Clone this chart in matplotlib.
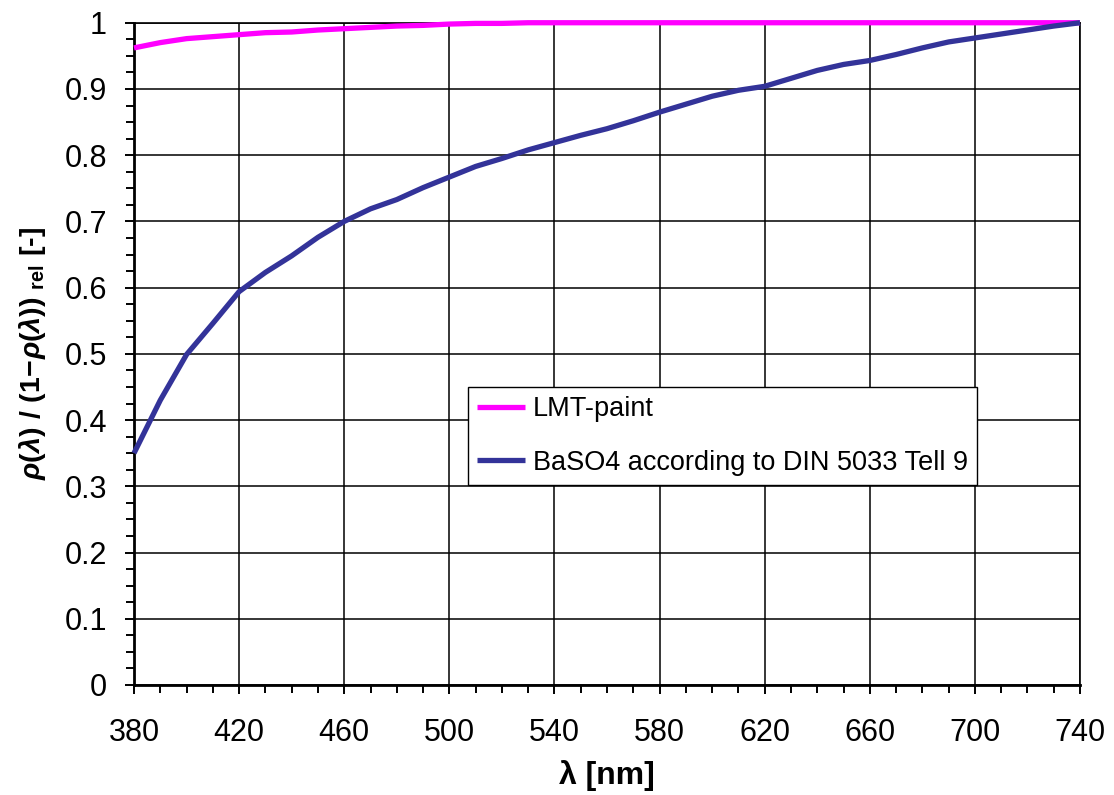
import matplotlib
matplotlib.use('Agg')
import matplotlib.pyplot as plt
from matplotlib.ticker import MultipleLocator
import numpy as np

plt.rcParams['font.family'] = ['Liberation Sans', 'DejaVu Sans']
plt.rcParams['mathtext.fontset'] = 'custom'
plt.rcParams['mathtext.rm'] = 'Liberation Sans:bold'
plt.rcParams['mathtext.it'] = 'Liberation Sans:italic:bold'
plt.rcParams['mathtext.bf'] = 'Liberation Sans:bold'

# wavelength grid (nm)
wavelength = [380, 390, 400, 410, 420, 430, 440, 450, 460, 470,
              480, 490, 500, 510, 520, 530, 540, 550, 560, 570,
              580, 590, 600, 610, 620, 630, 640, 650, 660, 670,
              680, 690, 700, 710, 720, 730, 740]

# relative rho/(1-rho) values
lmt_paint = [0.962, 0.970, 0.976, 0.979, 0.982, 0.985, 0.986, 0.989, 0.991, 0.993,
             0.995, 0.996, 0.998, 0.999, 0.999, 1.000, 1.000, 1.000, 1.000, 1.000,
             1.000, 1.000, 1.000, 1.000, 1.000, 1.000, 1.000, 1.000, 1.000, 1.000,
             1.000, 1.000, 1.000, 1.000, 1.000, 1.000, 1.000]
baso4 = [0.350, 0.430, 0.499, 0.546, 0.594, 0.623, 0.648, 0.676, 0.700, 0.719,
         0.733, 0.751, 0.767, 0.783, 0.795, 0.808, 0.819, 0.830, 0.840, 0.852,
         0.865, 0.877, 0.889, 0.898, 0.904, 0.916, 0.928, 0.937, 0.943, 0.952,
         0.962, 0.971, 0.977, 0.983, 0.989, 0.995, 1.000]

labels = ['LMT-paint', 'BaSO4 according to DIN 5033 Tell 9']
xticks = [380, 420, 460, 500, 540, 580, 620, 660, 700, 740]
yticks = [0, 0.1, 0.2, 0.3, 0.4, 0.5, 0.6, 0.7, 0.8, 0.9, 1]
yticklabels = ['0', '0.1', '0.2', '0.3', '0.4', '0.5', '0.6', '0.7', '0.8', '0.9', '1']

fig = plt.figure(figsize=(11.14, 7.95), dpi=100)
ax = fig.add_axes([0.1203, 0.1384, 0.8492, 0.833])

ax.plot(wavelength, lmt_paint, color='#FF00FF', lw=3.8, label=labels[0],
        clip_on=False, solid_capstyle='butt', zorder=3)
ax.plot(wavelength, baso4, color='#333399', lw=3.8, label=labels[1],
        clip_on=False, solid_capstyle='butt', zorder=4)

ax.set_xlim(380, 740)
ax.set_ylim(0, 1)
ax.set_xticks(xticks)
ax.xaxis.set_minor_locator(MultipleLocator(10))
ax.set_yticks(yticks)
ax.set_yticklabels(yticklabels)
ax.yaxis.set_minor_locator(MultipleLocator(0.025))

ax.grid(True, which='major', color='black', lw=1.1)
ax.tick_params(which='both', direction='out', width=1.4, color='black')
ax.tick_params(which='major', length=6.5)
ax.tick_params(which='minor', length=5.5)
ax.tick_params(axis='x', which='major', labelsize=22, pad=17)
ax.tick_params(axis='y', which='major', labelsize=22, pad=13)
for side in ['left', 'bottom']:
    ax.spines[side].set_linewidth(2)
for side in ['top', 'right']:
    ax.spines[side].set_linewidth(1.2)

ax.set_xlabel('λ [nm]', fontsize=23, fontweight='bold', labelpad=9)
ax.set_ylabel(r'$\rho(\lambda)\ /\ (1\!-\!\rho(\lambda))$ $_{\mathrm{rel}}$ [-]',
              fontsize=20.5, fontweight='bold', labelpad=12)

leg = ax.legend(loc='upper left', bbox_to_anchor=(0.353, 0.45), borderaxespad=0,
                fontsize=19.5, fancybox=False, edgecolor='black', framealpha=1,
                handlelength=1.75, handletextpad=0.3, borderpad=0.35,
                labelspacing=1.0)
leg.get_frame().set_linewidth(1.0)

fig.savefig('out.png', dpi=100)
